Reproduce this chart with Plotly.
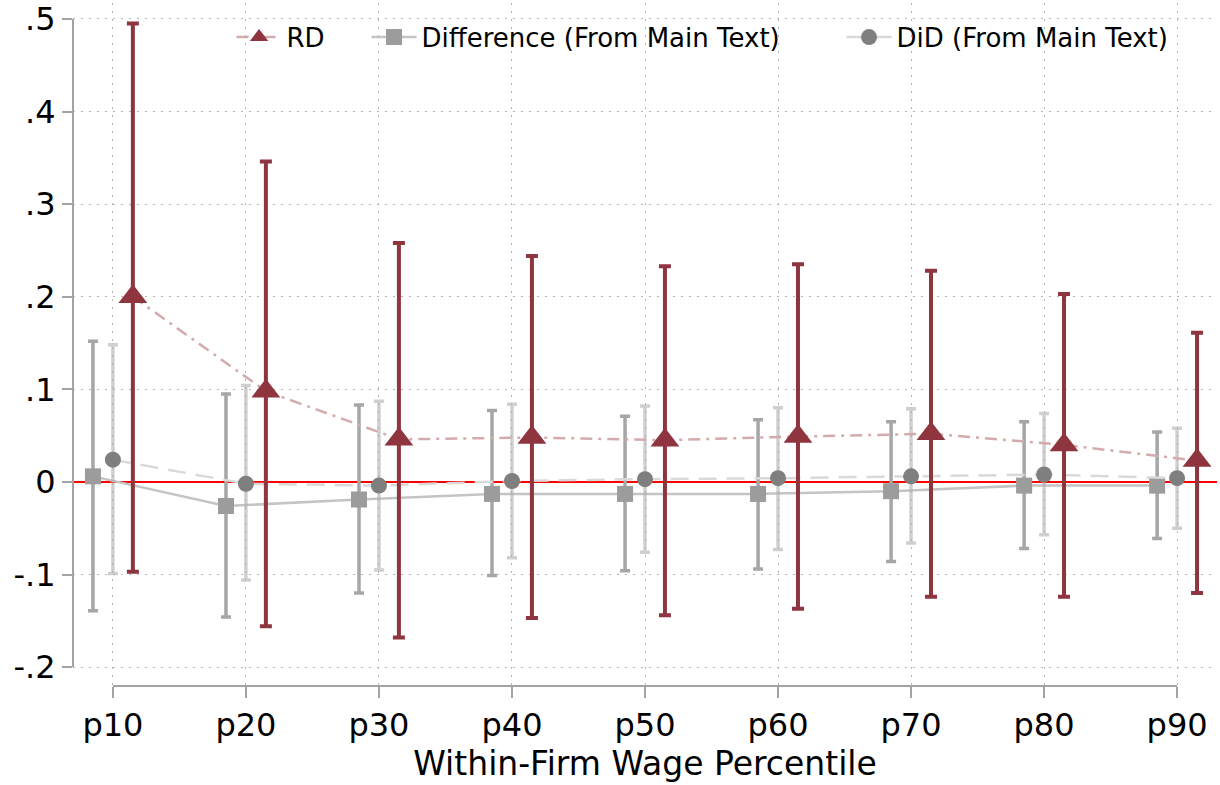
import plotly.graph_objects as go

# ---- data ----
categories = ["p10", "p20", "p30", "p40", "p50", "p60", "p70", "p80", "p90"]
cat_pos = [10, 20, 30, 40, 50, 60, 70, 80, 90]

rd_est = [0.200, 0.098, 0.046, 0.048, 0.045, 0.049, 0.052, 0.040, 0.023]
rd_lo = [-0.097, -0.156, -0.168, -0.147, -0.144, -0.137, -0.124, -0.124, -0.120]
rd_hi = [0.495, 0.346, 0.258, 0.244, 0.233, 0.235, 0.228, 0.203, 0.161]

diff_est = [0.006, -0.026, -0.019, -0.013, -0.013, -0.013, -0.010, -0.004, -0.004]
diff_lo = [-0.139, -0.146, -0.120, -0.101, -0.096, -0.094, -0.086, -0.072, -0.061]
diff_hi = [0.152, 0.095, 0.083, 0.077, 0.071, 0.067, 0.065, 0.065, 0.054]

did_est = [0.024, -0.002, -0.004, 0.001, 0.003, 0.004, 0.006, 0.008, 0.004]
did_lo = [-0.099, -0.106, -0.095, -0.082, -0.076, -0.073, -0.066, -0.057, -0.050]
did_hi = [0.148, 0.104, 0.087, 0.084, 0.082, 0.080, 0.079, 0.074, 0.058]

y_tickvals = [0.5, 0.4, 0.3, 0.2, 0.1, 0, -0.1, -0.2]
y_ticktext = [".5", ".4", ".3", ".2", ".1", "0", "-.1", "-.2"]

offset = 1.5
FONT = "DejaVu Sans"
RD_COL = "#8f3540"

x_diff = [c - offset for c in cat_pos]
x_did = list(cat_pos)
x_rd = [c + offset for c in cat_pos]

fig = go.Figure()

fig.add_trace(go.Scatter(
    x=x_diff, y=diff_est, mode="lines+markers", name="Difference (From Main Text)",
    line=dict(color="#c4c4c4", width=2.5),
    marker=dict(symbol="square", size=16, color="#9c9c9c"),
    error_y=dict(type="data", symmetric=False,
                 array=[h - e for h, e in zip(diff_hi, diff_est)],
                 arrayminus=[e - l for e, l in zip(diff_est, diff_lo)],
                 color="#a6a6a6", thickness=3.5, width=5),
    legend="legend2", showlegend=True,
))

fig.add_trace(go.Scatter(
    x=x_did, y=did_est, mode="lines+markers", name="DiD (From Main Text)",
    line=dict(color="#d9d9d9", width=2.5, dash="18px,10px"),
    marker=dict(symbol="circle", size=16, color="#7f7f7f"),
    error_y=dict(type="data", symmetric=False,
                 array=[h - e for h, e in zip(did_hi, did_est)],
                 arrayminus=[e - l for e, l in zip(did_est, did_lo)],
                 color="rgba(175,175,175,0.6)", thickness=3.5, width=5),
    legend="legend3", showlegend=True,
))

fig.add_trace(go.Scatter(
    x=x_rd, y=rd_est, mode="lines+markers", name="RD",
    line=dict(color="#d3abad", width=2.5, dash="12px,6px,3px,6px"),
    marker=dict(symbol="triangle-up", size=25, color=RD_COL),
    error_y=dict(type="data", symmetric=False,
                 array=[h - e for h, e in zip(rd_hi, rd_est)],
                 arrayminus=[e - l for e, l in zip(rd_est, rd_lo)],
                 color=RD_COL, thickness=4, width=6),
    legend="legend", showlegend=True,
))

# white legend backdrop (hides gridlines behind the legend)
fig.add_shape(type="rect", xref="paper", yref="paper", x0=0.127, x1=0.985, y0=0.909, y1=1.0,
              fillcolor="white", line=dict(width=0), layer="between")
# axis lines spanning only the tick range
fig.add_shape(type="line", xref="paper", yref="y", x0=0, x1=0, y0=-0.2, y1=0.5,
              line=dict(color="#a3a3a3", width=2))
fig.add_shape(type="line", xref="x", yref="paper", x0=10, x1=90, y0=0, y1=0,
              line=dict(color="#a3a3a3", width=2))

leg_common = dict(orientation="h", xanchor="left", yanchor="middle", y=0.95,
                  bgcolor="rgba(255,255,255,0)", font=dict(family=FONT, size=26, color="black"),
                  itemwidth=45, visible=True)
fig.update_layout(
    width=1220, height=785,
    margin=dict(l=73, r=3, t=0, b=99),
    paper_bgcolor="white", plot_bgcolor="white",
    font=dict(family=FONT, color="black"),
    showlegend=True,
    legend=dict(x=0.1386, **leg_common),
    legend2=dict(x=0.2566, **leg_common),
    legend3=dict(x=0.6718, **leg_common),
    xaxis=dict(
        range=[7.0, 93.0], tickmode="array", tickvals=cat_pos, ticktext=categories,
        showline=False, zeroline=False,
        ticks="outside", ticklen=11, tickwidth=2, tickcolor="#a3a3a3",
        tickfont=dict(family=FONT, size=32, color="black"),
        showgrid=True, gridcolor="#b5b5b5", gridwidth=1.2, griddash="2px,6px",
        title=dict(text="Within-Firm Wage Percentile", font=dict(family=FONT, size=33, color="black"),
                   standoff=2),
    ),
    yaxis=dict(
        range=[-0.2204, 0.5172], tickmode="array", tickvals=y_tickvals, ticktext=y_ticktext,
        showline=False, zeroline=True, zerolinecolor="#ff0000", zerolinewidth=2,
        ticks="outside", ticklen=10, tickwidth=2, tickcolor="#a3a3a3",
        tickfont=dict(family=FONT, size=32, color="black"), ticklabeloverflow="allow",
        showgrid=True, gridcolor="#b5b5b5", gridwidth=1.2, griddash="2px,6px",
    ),
)

fig.write_html("out.html")
